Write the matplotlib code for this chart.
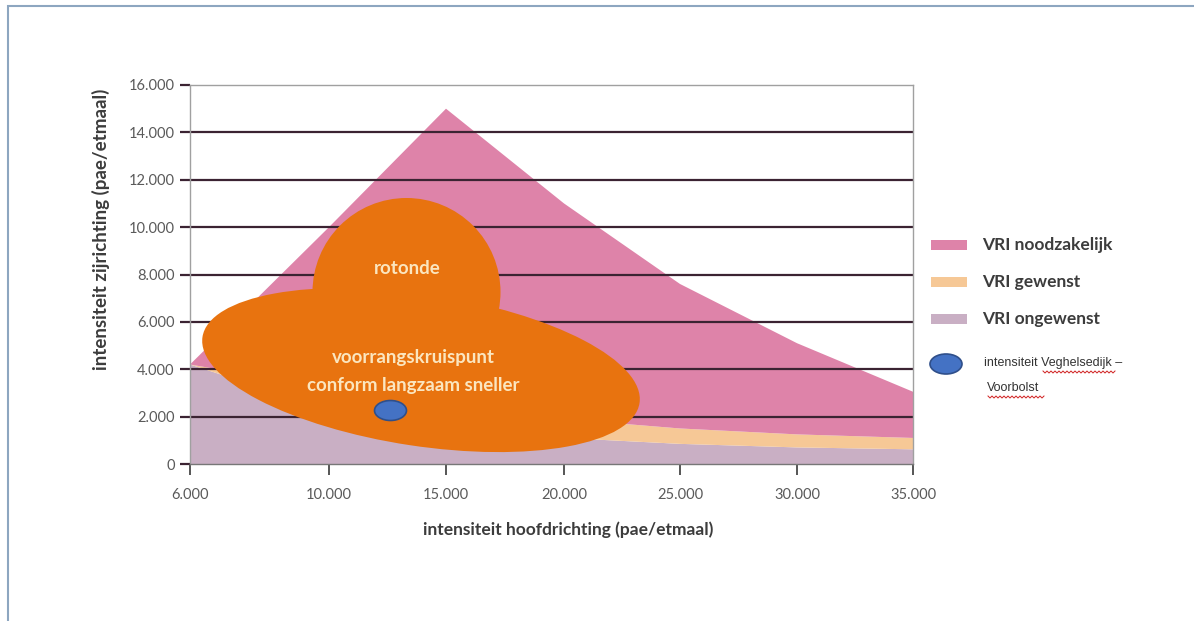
import numpy as np
import matplotlib
matplotlib.use("Agg")
import matplotlib.pyplot as plt
from matplotlib.patches import Ellipse, Rectangle
from matplotlib.path import Path
from matplotlib.lines import Line2D

# hoofdrichting (pae/etmaal)
x_hoofd = [6000, 10000, 15000, 20000, 25000, 30000, 35000]
# band thicknesses (stacked)
ongewenst = [4200, 2300, 1500, 1100, 850, 700, 620]
gewenst = [0, 900, 900, 800, 650, 550, 480]
noodzakelijk = [0, 6800, 12600, 9100, 6100, 3850, 1950]

series_names = ["VRI ongewenst", "VRI gewenst", "VRI noodzakelijk"]
series_colors = ["#c9afc4", "#f6c896", "#de83a9"]

punt_x = [12600]
punt_y = [2300]

y_ticks = [0, 2000, 4000, 6000, 8000, 10000, 12000, 14000, 16000]
y_labels = ["0", "2.000", "4.000", "6.000", "8.000", "10.000", "12.000", "14.000", "16.000"]
x_labels = ["6.000", "10.000", "15.000", "20.000", "25.000", "30.000", "35.000"]

# the original axis is not linear: first step is wider than the others
x_pos = [0, 139, 256, 374, 490, 607, 723]

def fwd(v):
    return np.interp(v, x_hoofd, x_pos)

def inv(v):
    return np.interp(v, x_pos, x_hoofd)

W, H = 1194, 621
fig = plt.figure(figsize=(W / 100, H / 100), dpi=100)
fig.patch.set_facecolor("white")

def fx(px):
    return px / W

def fy(py):
    return 1 - py / H

FONT = ["Lato", "DejaVu Sans"]

ax = fig.add_axes([fx(190), fy(464), fx(913) - fx(190), fy(85) - fy(464)])
ax.set_xscale("function", functions=(fwd, inv))

ax.stackplot(x_hoofd, ongewenst, gewenst, noodzakelijk,
             colors=series_colors, linewidth=0, zorder=1)

for v in y_ticks[1:-1]:
    ax.axhline(v, color="#3b2332", lw=1.6, zorder=2)

ax.set_xlim(6000, 35000)
ax.set_ylim(0, 16000)
ax.set_yticks(y_ticks)
ax.set_yticklabels(y_labels)
ax.set_xticks(x_hoofd)
ax.set_xticklabels(x_labels)

for lab in ax.get_xticklabels() + ax.get_yticklabels():
    lab.set_fontfamily(FONT)
    lab.set_fontsize(10.5)
    lab.set_color("#5a5a5a")

ax.tick_params(axis="y", direction="out", length=7, width=1.6, color="#3b2332", pad=4)
ax.tick_params(axis="x", direction="out", length=8, width=1.4, color="#555555", pad=9)

for side in ["top", "right", "left", "bottom"]:
    ax.spines[side].set_color("#a0a0a0")
    ax.spines[side].set_linewidth(1)
ax.spines["bottom"].set_color("#777777")

# orange blobs (rotonde / voorrangskruispunt), placed in pixels
blob = "#e8730f"
ax.add_patch(Ellipse((4.21, (H - 370) / 100), 4.42, 1.52, angle=-8.6,
                     transform=fig.dpi_scale_trans, facecolor=blob,
                     edgecolor="none", zorder=3))
ax.add_patch(Ellipse((4.065, (H - 292) / 100), 1.88, 1.88,
                     transform=fig.dpi_scale_trans, facecolor=blob,
                     edgecolor="none", zorder=3))

# ellipse marker for the measured point
circ = Path.unit_circle()
ell = Path(circ.vertices * np.array([1.6, 1.0]), circ.codes)
ax.plot(punt_x, punt_y, linestyle="none", marker=ell, markersize=23,
        markerfacecolor="#4472c4", markeredgecolor="#2f4f8a",
        markeredgewidth=1.2, zorder=4)

blob_txt = dict(color="#fbe6bf", fontsize=13.5, ha="center", va="center",
                family=FONT, fontweight="bold")
fig.text(fx(407), fy(269), "rotonde", **blob_txt)
fig.text(fx(413), fy(357), "voorrangskruispunt", **blob_txt)
fig.text(fx(413), fy(386), "conform langzaam sneller", **blob_txt)

lab_font = dict(family=FONT, fontsize=12.5, color="#3c3c3c", fontweight="bold")
fig.text(fx(101), fy(229), "intensiteit zijrichting (pae/etmaal)", rotation=90,
         ha="center", va="center", **dict(lab_font, fontsize=13.5))
fig.text(fx(568), fy(530), "intensiteit hoofdrichting (pae/etmaal)",
         ha="center", va="center", **lab_font)

# legend, built by hand to match the original layout
leg_rows = [(series_names[2], series_colors[2], 245),
            (series_names[1], series_colors[1], 282),
            (series_names[0], series_colors[0], 319)]
for name, col, yy in leg_rows:
    fig.add_artist(Rectangle((fx(931), fy(yy + 5)), fx(36), 10 / H,
                             transform=fig.transFigure, facecolor=col,
                             edgecolor="none"))
    fig.text(fx(982), fy(yy), name, ha="left", va="center", **lab_font)

fig.add_artist(Ellipse((fx(946), fy(364)), fx(32), 20 / H,
                       transform=fig.transFigure, facecolor="#4472c4",
                       edgecolor="#2f4f8a", lw=1.2))
small = dict(family=["Liberation Sans", "DejaVu Sans"], fontsize=9, color="#333333",
             ha="left", va="center")
fig.text(fx(984), fy(363), "intensiteit Veghelsedijk \u2013", **small)
fig.text(fx(987), fy(388), "Voorbolst", **small)

# red spell-check squiggles
for x0, x1, yy in [(1043, 1115, 372), (988, 1045, 397)]:
    xs = np.arange(x0, x1 + 1, 2)
    ys = yy + np.where(np.arange(len(xs)) % 2 == 0, -1, 1)
    fig.add_artist(Line2D([fx(v) for v in xs], [fy(v) for v in ys],
                          transform=fig.transFigure, color="#d02020", lw=0.7))

# page frame
fig.add_artist(Rectangle((fx(8), fy(700)), 2, fy(6) - fy(700),
                         transform=fig.transFigure, fill=False,
                         edgecolor="#8da6c0", lw=1.5))

fig.savefig("out.png", dpi=100)
